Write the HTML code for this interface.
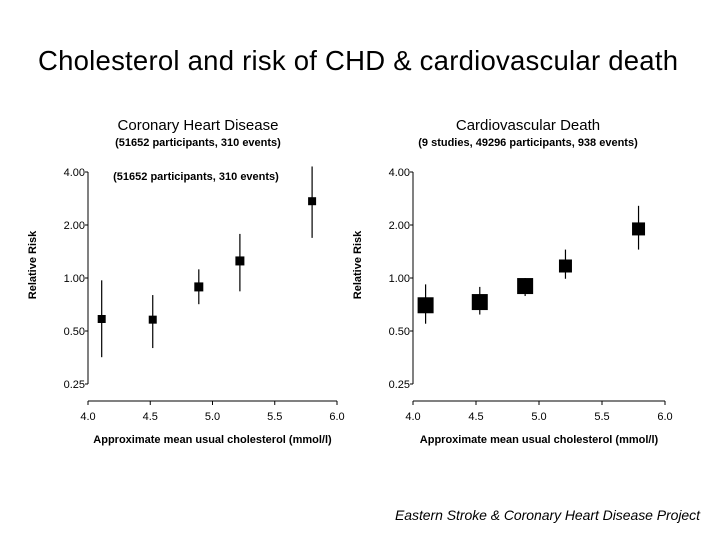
<!DOCTYPE html>
<html><head><meta charset="utf-8"><style>
body{margin:0;background:#fff;}
svg text{font-family:"Liberation Sans",Arial,sans-serif;}
</style></head><body>
<svg width="720" height="540" viewBox="0 0 720 540" xmlns="http://www.w3.org/2000/svg">
<text x="358" y="70" text-anchor="middle" font-size="27.5" textLength="640">Cholesterol and risk of CHD &amp; cardiovascular death</text>
<text x="198" y="130" text-anchor="middle" font-size="15">Coronary Heart Disease</text>
<text x="198" y="146" text-anchor="middle" font-size="11" font-weight="bold">(51652 participants, 310 events)</text>
<text x="528" y="130" text-anchor="middle" font-size="15">Cardiovascular Death</text>
<text x="528" y="146" text-anchor="middle" font-size="11" font-weight="bold">(9 studies, 49296 participants, 938 events)</text>
<text x="196" y="180" text-anchor="middle" font-size="11" font-weight="bold">(51652 participants, 310 events)</text>
<text x="700" y="520" text-anchor="end" font-size="14" font-style="italic" textLength="305">Eastern Stroke &amp; Coronary Heart Disease Project</text>
<g id="left"></g>
<g id="right"></g>
</svg>
<script>
const xTicks=[4.0,4.5,5.0,5.5,6.0];
const yTicks=[4,2,1,0.5,0.25];
const yTickLabels=["4.00","2.00","1.00","0.50","0.25"];
const chdX=[4.11,4.52,4.89,5.22,5.80];
const chdRR=[0.585,0.58,0.89,1.25,2.73];
const chdLo=[0.355,0.40,0.71,0.84,1.69];
const chdHi=[0.97,0.80,1.12,1.78,4.3];
const chdSize=[8,8,9,9,8];
const cvdX=[4.10,4.53,4.89,5.21,5.79];
const cvdRR=[0.70,0.73,0.90,1.17,1.9];
const cvdLo=[0.55,0.62,0.79,0.99,1.45];
const cvdHi=[0.92,0.89,1.0,1.45,2.57];
const cvdSize=[16,16,16,13,13];
const NS="http://www.w3.org/2000/svg";
function mk(t,a,p){const e=document.createElementNS(NS,t);for(const k in a)e.setAttribute(k,a[k]);p.appendChild(e);return e;}
function draw(g,ax,ax2,xs,rr,lo,hi,sz,pre){
  const xS=v=>ax+(v-4)/2*(ax2-ax);
  const yS=v=>278-Math.log2(v)*53;
  let l=mk('line',{x1:ax,y1:yS(4),x2:ax,y2:yS(0.25),stroke:'#000'},g);
  
  
  l=mk('line',{x1:ax,y1:401,x2:ax2,y2:401,stroke:'#000'},g);
  
  
  yTicks.forEach((v,i)=>{
    mk('line',{x1:ax-3,y1:yS(v),x2:ax,y2:yS(v),stroke:'#000'},g);
    const t=mk('text',{x:ax-3,y:yS(v)+4,'text-anchor':'end','font-size':11},g);
    t.textContent=yTickLabels[i];
    
    
  });
  xTicks.forEach(v=>{
    mk('line',{x1:xS(v),y1:401,x2:xS(v),y2:405,stroke:'#000'},g);
    const t=mk('text',{x:xS(v),y:420,'text-anchor':'middle','font-size':11},g);
    t.textContent=v.toFixed(1);
    
    
  });
  let t=mk('text',{x:(ax+ax2)/2,y:443,'text-anchor':'middle','font-size':11,'font-weight':'bold'},g);
  t.textContent='Approximate mean usual cholesterol (mmol/l)';
  
  
  t=mk('text',{x:0,y:0,'text-anchor':'middle','font-size':11,'font-weight':'bold',transform:`translate(${ax-52},265) rotate(-90)`},g);
  t.textContent='Relative Risk';
  
  
  xs.forEach((x,i)=>{
    const e=mk('line',{x1:xS(x),y1:yS(hi[i]),x2:xS(x),y2:yS(lo[i]),stroke:'#000','stroke-width':1.2},g);
    
    
    const s=sz[i];
    const r=mk('rect',{x:xS(x)-s/2,y:yS(rr[i])-s/2,width:s,height:s,fill:'#000'},g);
    
    
  });
}
draw(document.getElementById('left'),88,337,chdX,chdRR,chdLo,chdHi,chdSize,'chd');
draw(document.getElementById('right'),413,665,cvdX,cvdRR,cvdLo,cvdHi,cvdSize,'cvd');
</script>
</body></html>
